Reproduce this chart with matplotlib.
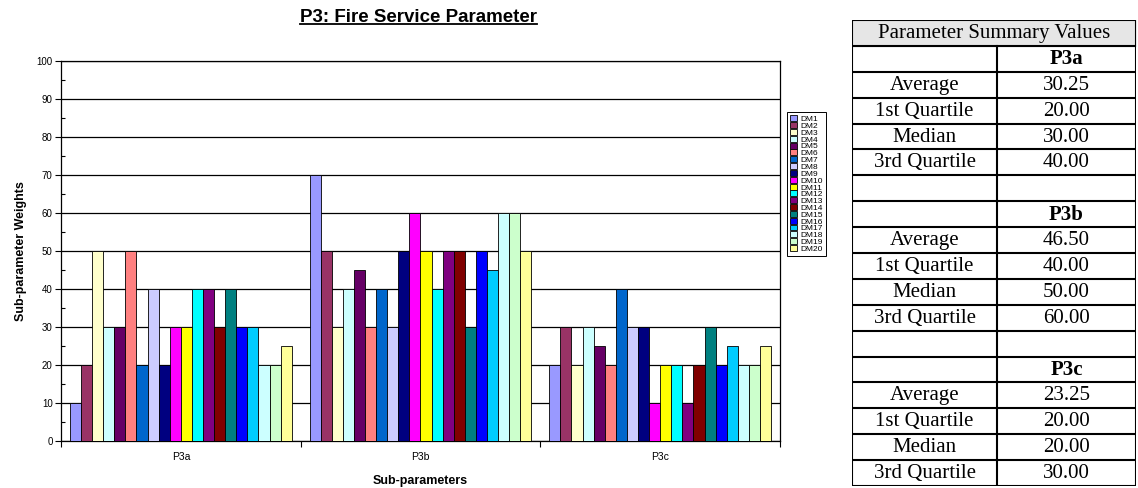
import matplotlib
matplotlib.use('Agg')
import matplotlib.pyplot as plt
from matplotlib.ticker import MultipleLocator, FixedLocator
from matplotlib.lines import Line2D
import numpy as np

# chart data
categories = ['P3a', 'P3b', 'P3c']
members = ['DM1', 'DM2', 'DM3', 'DM4', 'DM5', 'DM6', 'DM7', 'DM8', 'DM9', 'DM10',
           'DM11', 'DM12', 'DM13', 'DM14', 'DM15', 'DM16', 'DM17', 'DM18', 'DM19', 'DM20']
p3a = [10, 20, 50, 30, 30, 50, 20, 40, 20, 30, 30, 40, 40, 30, 40, 30, 30, 20, 20, 25]
p3b = [70, 50, 30, 40, 45, 30, 40, 30, 50, 60, 50, 40, 50, 50, 30, 50, 45, 60, 60, 50]
p3c = [20, 30, 20, 30, 25, 20, 40, 30, 30, 10, 20, 20, 10, 20, 30, 20, 25, 20, 20, 25]
colors = ['#9999FF', '#993366', '#FFFFCC', '#CCFFFF', '#660066', '#FF8080', '#0066CC',
          '#CCCCFF', '#000080', '#FF00FF', '#FFFF00', '#00FFFF', '#800080', '#800000',
          '#008080', '#0000FF', '#00CCFF', '#CCFFFF', '#CCFFCC', '#FFFF99']

# summary table
stat_names = ['Average', '1st Quartile', 'Median', '3rd Quartile']
p3a_stats = [30.25, 20.00, 30.00, 40.00]
p3b_stats = [46.50, 40.00, 50.00, 60.00]
p3c_stats = [23.25, 20.00, 20.00, 30.00]

W, H = 1138, 488
fig = plt.figure(figsize=(W / 100, H / 100), dpi=100)
fig.patch.set_facecolor('white')

sans = 'Liberation Sans'
serif = 'Liberation Serif'

ax = fig.add_axes([61 / W, 47 / H, 719 / W, 380 / H])

weights = np.array([p3a, p3b, p3c])
x = np.arange(len(categories))
n = len(members)
bw = 0.925 / n
for j in range(n):
    off = -0.4625 + (j + 0.5) * bw
    ax.bar(x + off, weights[:, j], bw, color=colors[j], edgecolor='black',
           linewidth=0.6, label=members[j], zorder=3)

ax.set_xlim(-0.5, 2.5)
ax.set_ylim(0, 100)
ax.yaxis.set_major_locator(MultipleLocator(10))
ax.yaxis.set_minor_locator(MultipleLocator(5))
ax.yaxis.grid(True, which='major', color='black', linewidth=0.9)
ax.set_axisbelow(True)
ax.tick_params(axis='y', which='major', direction='out', length=4, width=0.8,
               labelsize=7, pad=2)
ax.tick_params(axis='y', which='minor', direction='in', length=3, width=0.8)
for lab in ax.get_yticklabels():
    lab.set_family(sans)

ax.xaxis.set_major_locator(FixedLocator([-0.5, 0.5, 1.5, 2.5]))
ax.xaxis.set_major_formatter(plt.NullFormatter())
ax.xaxis.set_minor_locator(FixedLocator(x))
ax.set_xticklabels(categories, minor=True, family=sans, fontsize=7.5)
ax.tick_params(axis='x', which='major', direction='out', length=4, width=0.8)
ax.tick_params(axis='x', which='minor', length=0, pad=8)

for s in ax.spines.values():
    s.set_color('black')
    s.set_linewidth(0.9)

ax.set_ylabel('Sub-parameter Weights', family=sans, fontweight='bold', fontsize=9, labelpad=7)
ax.set_xlabel('Sub-parameters', family=sans, fontweight='bold', fontsize=9, labelpad=9)

leg = ax.legend(loc='upper left', bbox_to_anchor=(787 / W, 1 - 112 / H),
                bbox_transform=fig.transFigure, prop={'family': sans, 'size': 6},
                frameon=True, fancybox=False, edgecolor='black', framealpha=1,
                handlelength=0.85, handleheight=0.7, handletextpad=0.3,
                labelspacing=-0.12, borderpad=0.4, borderaxespad=0)
leg.get_frame().set_linewidth(0.7)

# title with underline
title = fig.text(418 / W, 1 - 17 / H, 'P3: Fire Service Parameter', ha='center',
                 va='center', family=sans, fontweight='bold', fontsize=13.5)
fig.canvas.draw()
bb = title.get_window_extent(fig.canvas.get_renderer())
fig.add_artist(Line2D([bb.x0 / W, bb.x1 / W], [(bb.y0 + 1.5) / H, (bb.y0 + 1.5) / H],
                      transform=fig.transFigure, color='black', linewidth=1.3))

# summary table on the right
tx0, tx1, ty0, ty1 = 852, 1136, 20, 486
tab = fig.add_axes([tx0 / W, 1 - ty1 / H, (tx1 - tx0) / W, (ty1 - ty0) / H])
nrows = 18
tab.set_xlim(0, 1)
tab.set_ylim(nrows, 0)
tab.axis('off')
split = (997 - tx0) / (tx1 - tx0)

tab.fill_between([0, 1], 0, 1, color='#E6E6E6', zorder=0)
lw = 1.5
for r in range(nrows + 1):
    tab.plot([0, 1], [r, r], color='black', linewidth=lw, solid_capstyle='projecting')
tab.plot([0, 0], [0, nrows], color='black', linewidth=lw, solid_capstyle='projecting')
tab.plot([1, 1], [0, nrows], color='black', linewidth=lw, solid_capstyle='projecting')
tab.plot([split, split], [1, nrows], color='black', linewidth=lw)

fs = 15
tab.text(0.5, 0.52, 'Parameter Summary Values', ha='center', va='center',
         family=serif, fontsize=fs)
row = 1
for cat, stats in zip(categories, [p3a_stats, p3b_stats, p3c_stats]):
    tab.text((split + 1) / 2, row + 0.52, cat, ha='center', va='center',
             family=serif, fontsize=fs, fontweight='bold')
    row += 1
    for name, val in zip(stat_names, stats):
        tab.text(split / 2, row + 0.52, name, ha='center', va='center',
                 family=serif, fontsize=fs)
        tab.text((split + 1) / 2, row + 0.52, f'{val:.2f}', ha='center', va='center',
                 family=serif, fontsize=fs)
        row += 1
    row += 1

fig.savefig('out.png', dpi=100, facecolor='white')
